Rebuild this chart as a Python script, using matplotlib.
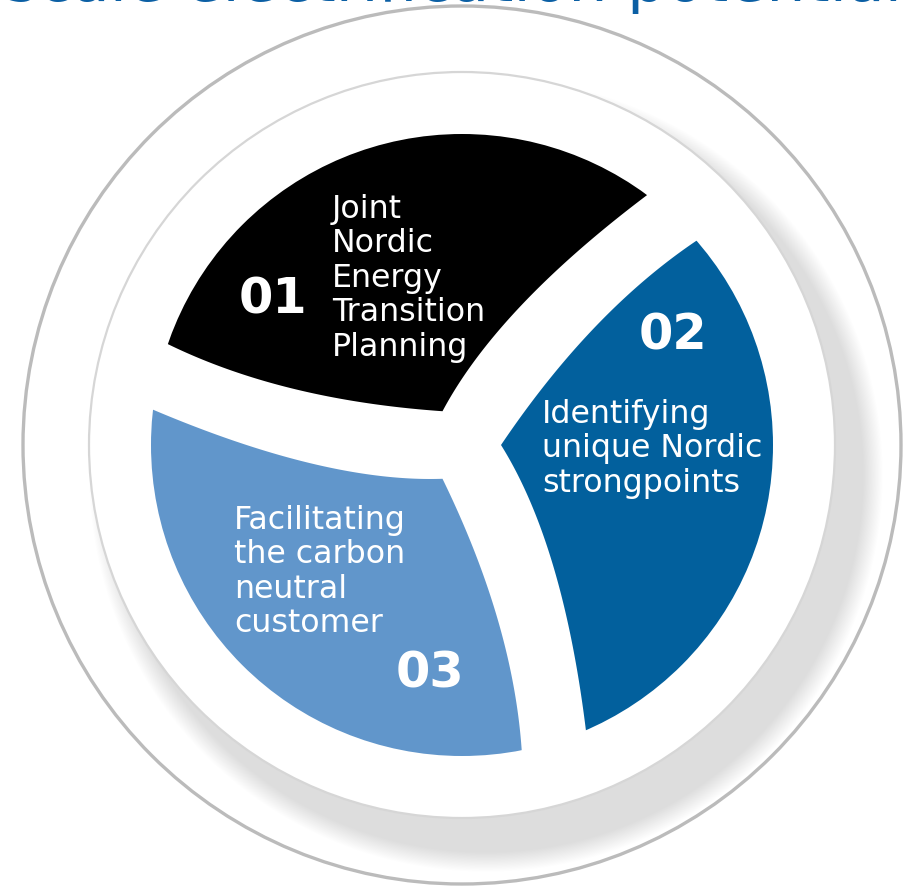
import numpy as np
import matplotlib.pyplot as plt
from matplotlib.patches import Circle, Polygon

# ---- content ----
numbers = ['01', '02', '03']
labels = [
    ['Joint', 'Nordic', 'Energy', 'Transition', 'Planning'],
    ['Identifying', 'unique Nordic', 'strongpoints'],
    ['Facilitating', 'the carbon', 'neutral', 'customer'],
]
colors = ['#000000', '#02609d', '#6196cb']
rotations = [120, 0, 240]          # where each piece sits (degrees, ccw)
title = 'Realising the large-scale electrification potential'

# ---- geometry (pixels) ----
W, H = 912, 886
cx, cy = 462, 445
R_OUT, R_IN, R_PIE = 439, 373, 311

# edges of one swirl piece (the "02" one) as quadratic curves,
# relative to centre, y up: start, control, end
lead = np.array([(39, 0), (128.6, 132.9), (234, 204)], float)
trail = np.array([(39, 0), (101.1, -99.4), (124, -286)], float)


def bezier(p, n=80):
    t = np.linspace(0, 1, n)[:, None]
    return (1 - t) ** 2 * p[0] + 2 * t * (1 - t) * p[1] + t ** 2 * p[2]


def extend(pts, length=120):
    d = pts[-1] - pts[-2]
    d = d / np.hypot(*d)
    return np.vstack([pts, pts[-1] + d * length])


def piece_outline():
    t = extend(bezier(trail))
    l = extend(bezier(lead))
    a0 = np.arctan2(t[-1, 1], t[-1, 0])
    a1 = np.arctan2(l[-1, 1], l[-1, 0])
    ang = np.linspace(a0, a1, 60)
    arc = np.column_stack([420 * np.cos(ang), 420 * np.sin(ang)])
    return np.vstack([t, arc, l[::-1]])


def to_img(pts, deg):
    a = np.deg2rad(deg)
    x = pts[:, 0] * np.cos(a) - pts[:, 1] * np.sin(a)
    y = pts[:, 0] * np.sin(a) + pts[:, 1] * np.cos(a)
    return np.column_stack([cx + x, cy - y])


fig = plt.figure(figsize=(W / 100, H / 100), dpi=100)
ax = fig.add_axes([0, 0, 1, 1])

# soft drop shadow of the inner disc
xs = np.arange(W) + 0.5
ys = np.arange(H) + 0.5
X, Y = np.meshgrid(xs, ys)
d = np.hypot(X - (cx + 24), Y - (cy + 30))
blur = 20
alpha = np.clip((R_IN + 14 + blur / 2 - d) / blur, 0, 1)
rgba = np.zeros((H, W, 4))
rgba[..., :3] = 0.87
rgba[..., 3] = alpha
ax.imshow(rgba, extent=(0, W, H, 0), zorder=1, interpolation='bilinear')

ax.add_patch(Circle((cx, cy), R_OUT, fill=False, ec='#bbbbbb', lw=2.4, zorder=2))
ax.add_patch(Circle((cx, cy), R_IN, fc='white', ec='#d6d6d6', lw=1.6, zorder=3))

clip = Circle((cx, cy), R_PIE, transform=ax.transData)
base = piece_outline()
for col, rot in zip(colors, rotations):
    p = Polygon(to_img(base, rot), closed=True, fc=col, ec='none', zorder=4)
    ax.add_patch(p)
    p.set_clip_path(clip)

# numbers
num_pos = [(239, 313), (638.5, 350), (395.5, 688)]
for txt, (x, y) in zip(numbers, num_pos):
    ax.text(x, y, txt, color='white', fontsize=35.6, fontweight='bold',
            ha='left', va='baseline', zorder=6)

# label text, one line at a time
lab_pos = [(332, 218), (542, 423), (234, 529)]
step = 34.4
for lines, (x, y) in zip(labels, lab_pos):
    for i, line in enumerate(lines):
        ax.text(x, y + i * step, line, color='white', fontsize=22.8,
                ha='left', va='baseline', zorder=6)

# title, only its lower edge shows at the top of the picture
ax.text(902, 1, title, color='#0b5fa4', fontsize=44.6, ha='right',
        va='baseline', zorder=6, clip_on=True)

ax.set_xlim(0, W)
ax.set_ylim(H, 0)
ax.axis('off')
fig.savefig('out.png', dpi=100)
